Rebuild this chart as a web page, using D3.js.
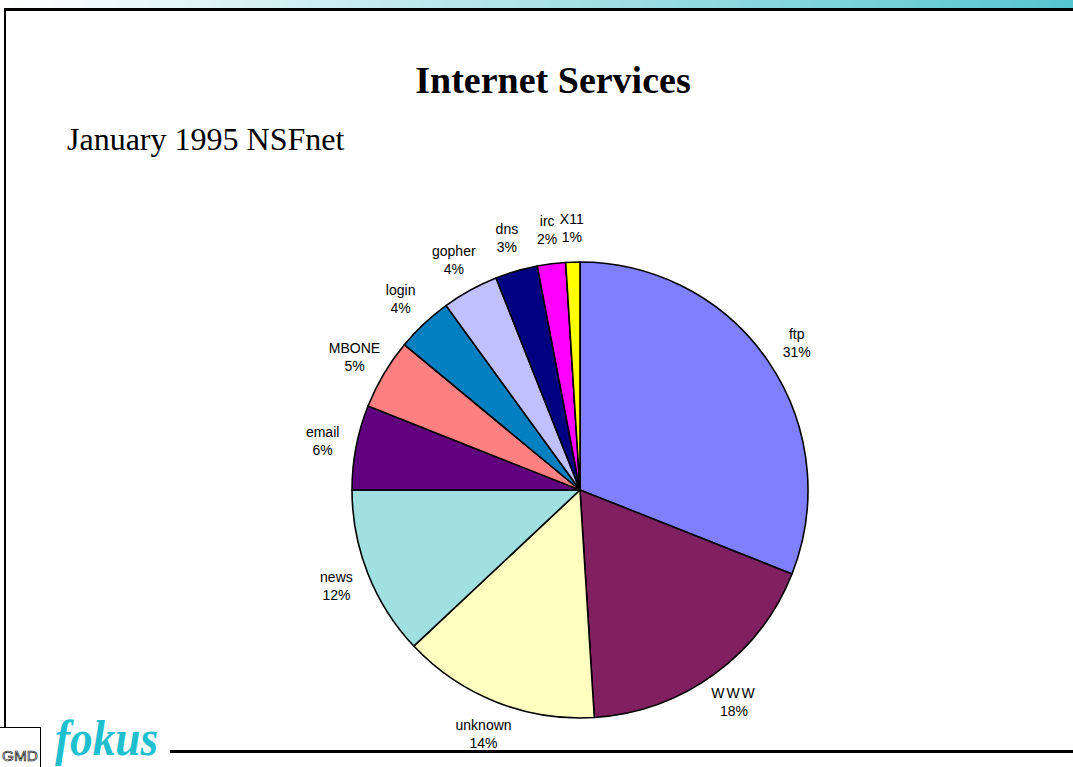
<!DOCTYPE html>
<html>
<head>
<meta charset="utf-8">
<script src="https://cdn.jsdelivr.net/npm/d3@7"></script>
<style>
  html, body { margin: 0; padding: 0; background: #fff; }
  svg { display: block; }
</style>
</head>
<body>
<svg id="chart" width="1073" height="767"></svg>
<script>
// Share of NSFnet traffic by service, January 1995 (percent)
const services = ["ftp", "WWW", "unknown", "news", "email", "MBONE", "login", "gopher", "dns", "irc", "X11"];
const shares   = [31, 18, 14, 12, 6, 5, 4, 4, 3, 2, 1];
const sliceColors = ["#8080ff", "#802060", "#ffffc0", "#a0e0e0", "#600080", "#ff8080",
                     "#0080c0", "#c0c0ff", "#000080", "#ff00ff", "#ffff00"];

const W = 1073, H = 767;
const svg = d3.select("#chart");

// Header band with teal fade
const defs = svg.append("defs");
const grad = defs.append("linearGradient").attr("id", "band").attr("x1", "0").attr("x2", "1").attr("y1", "0").attr("y2", "0");
grad.append("stop").attr("offset", "0").attr("stop-color", "#ffffff");
grad.append("stop").attr("offset", "1").attr("stop-color", "#56c6d0");
svg.append("rect").attr("x", 0).attr("y", 0).attr("width", W).attr("height", 8).attr("fill", "url(#band)");

// Slide frame
svg.append("line").attr("x1", 4).attr("x2", W).attr("y1", 9.5).attr("y2", 9.5)
  .attr("stroke", "#000").attr("stroke-width", 3);
svg.append("line").attr("x1", 5).attr("x2", 5).attr("y1", 8).attr("y2", 727)
  .attr("stroke", "#000").attr("stroke-width", 2);
svg.append("line").attr("x1", 170).attr("x2", W).attr("y1", 751.5).attr("y2", 751.5)
  .attr("stroke", "#000").attr("stroke-width", 3);

// GMD box and fokus wordmark
svg.append("rect").attr("x", -1).attr("y", 727.5).attr("width", 41.5).attr("height", 42)
  .attr("fill", "#fff").attr("stroke", "#000").attr("stroke-width", 1);
svg.append("text").attr("x", 20).attr("y", 761).attr("text-anchor", "middle")
  .attr("font-family", "Liberation Sans, Arial, sans-serif").attr("font-size", 14)
  .attr("textLength", 36).attr("lengthAdjust", "spacingAndGlyphs")
  .attr("fill", "#fff").attr("stroke", "#000").attr("stroke-width", 0.6)
  .text("GMD");
svg.append("text").attr("x", 55).attr("y", 755)
  .attr("font-family", "Liberation Serif, Times New Roman, serif").attr("font-style", "italic")
  .attr("font-weight", "bold").attr("font-size", 50).attr("fill", "#1ec0d0")
  .attr("textLength", 103).attr("lengthAdjust", "spacingAndGlyphs")
  .text("fokus");

// Titles
svg.append("text").attr("x", 553).attr("y", 93).attr("text-anchor", "middle")
  .attr("font-family", "Liberation Serif, Times New Roman, serif").attr("font-weight", "bold")
  .attr("font-size", 38).attr("fill", "#000")
  .text("Internet Services");
svg.append("text").attr("x", 67).attr("y", 150)
  .attr("font-family", "Liberation Serif, Times New Roman, serif")
  .attr("font-size", 32).attr("fill", "#000")
  .text("January 1995 NSFnet");

// Pie
const cx = 580, cy = 490, radius = 228;
const data = services.map((name, i) => ({ name, value: shares[i], color: sliceColors[i] }));
const pie = d3.pie().value(d => d.value).sort(null);
const arcs = pie(data);
const arc = d3.arc().innerRadius(0).outerRadius(radius);
const labelArc = d3.arc().innerRadius(radius + 34).outerRadius(radius + 34);

const g = svg.append("g").attr("transform", `translate(${cx},${cy})`);
g.selectAll("path.slice").data(arcs).join("path")
  .attr("class", "slice")
  .attr("d", arc)
  .attr("fill", d => d.data.color)
  .attr("stroke", "#000").attr("stroke-width", 1.6).attr("stroke-linejoin", "round");

const total = d3.sum(shares);
const labels = g.selectAll("text.lbl").data(arcs).join("text")
  .attr("class", "lbl")
  .attr("transform", d => { const [x, y] = labelArc.centroid(d); return `translate(${x},${y})`; })
  .attr("text-anchor", "middle")
  .attr("font-family", "Liberation Sans, Arial, sans-serif")
  .attr("font-size", 14).attr("fill", "#000");
labels.append("tspan").attr("x", 0).attr("y", -4)
  .attr("letter-spacing", d => d.data.name === "WWW" ? 2 : 0)
  .text(d => d.data.name);
labels.append("tspan").attr("x", 0).attr("y", 14)
  .text(d => Math.round(d.data.value / total * 100) + "%");
</script>
</body>
</html>
